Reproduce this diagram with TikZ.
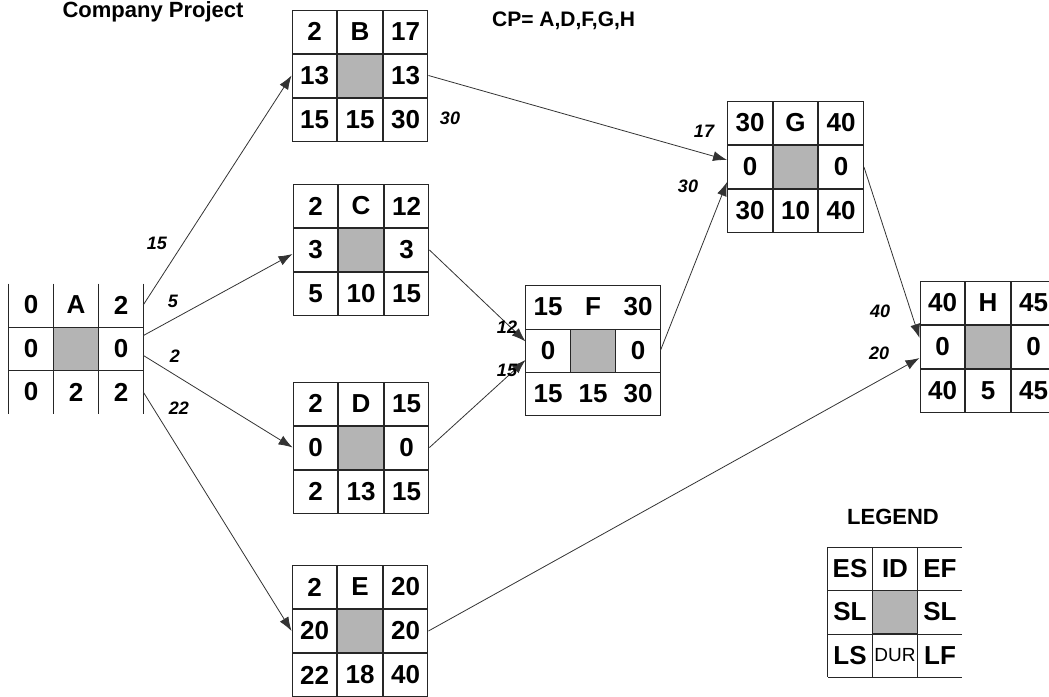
\documentclass[tikz,border=0pt]{standalone}
\usepackage{fontspec}
\setmainfont{Liberation Sans}
\usetikzlibrary{matrix,arrows.meta}

\definecolor{cellgray}{RGB}{180,180,180}
\newcommand{\cellfont}{\fontsize{26}{26}\selectfont\bfseries}
\newcommand{\durfont}{\fontsize{19}{19}\selectfont\mdseries}
\newcommand{\labfont}{\fontsize{18}{18}\selectfont\bfseries\itshape}

\tikzset{
  cell/.style={draw=black!85, line width=1pt, minimum width=44.5pt, minimum height=43pt,
    inner sep=0pt, outer sep=0pt, anchor=center, font=\cellfont},
  mid/.style={fill=cellgray, draw=black!85},
  pert/.style={matrix of nodes, nodes in empty cells, inner sep=0pt,
    column sep=0pt, row sep=0pt, nodes={cell}},
  openbox/.style={pert, nodes={cell, draw=none}},
  gridline/.style={line width=1pt, black!85},
  link/.style={-{Latex[length=14pt,width=10pt]}, line width=0.8pt, black!80},
  lbl/.style={font=\labfont, inner sep=0pt}
}

\begin{document}
\begin{tikzpicture}[x=1pt, y=-1pt]
  \useasboundingbox (0,0) rectangle (1049,696);

  % headings
  \node[font=\fontsize{22}{22}\selectfont\bfseries, anchor=base] (title) at (153,17) {Company Project};
  \node[font=\fontsize{21}{21}\selectfont\bfseries, anchor=base west, inner sep=0pt] (cp) at (492,26) {CP= A,D,F,G,H};

  % activities
  \matrix[openbox] (A) at (76,348.5) {0 & A & 2\\ 0 & |[mid]| & 0\\ 0 & 2 & 2\\};
  \foreach \c in {1,2,3}
    \draw[gridline] (A-1-\c.north west) -- (A-3-\c.south west);
  \draw[gridline] (A-1-3.north east) -- (A-3-3.south east);
  \foreach \r in {2,3}
    \draw[gridline] (A-\r-1.north west) -- (A-\r-3.north east);

  \matrix[pert] (B) at (360,75.5) {2 & B & 17\\ 13 & |[mid]| & 13\\ 15 & 15 & 30\\};
  \matrix[pert] (C) at (361,250) {2 & C & 12\\ 3 & |[mid]| & 3\\ 5 & 10 & 15\\};
  \matrix[pert] (D) at (361,447.5) {2 & D & 15\\ 0 & |[mid]| & 0\\ 2 & 13 & 15\\};
  \matrix[pert] (E) at (360,631) {2 & E & 20\\ 20 & |[mid]| & 20\\ 22 & 18 & 40\\};

  \matrix[openbox] (F) at (593,350.5) {15 & F & 30\\ 0 & |[mid]| & 0\\ 15 & 15 & 30\\};
  \draw[gridline] (F-1-1.north west) rectangle (F-3-3.south east);
  \foreach \r in {2,3}
    \draw[gridline] (F-\r-1.north west) -- (F-\r-3.north east);

  \matrix[pert] (G) at (795.5,167) {30 & G & 40\\ 0 & |[mid]| & 0\\ 30 & 10 & 40\\};
  \matrix[pert] (H) at (988,346.5) {40 & H & 45\\ 0 & |[mid]| & 0\\ 40 & 5 & 45\\};

  % legend
  \node[font=\fontsize{22}{22}\selectfont\bfseries] (legend title) at (893,517) {LEGEND};
  \matrix[openbox] (L) at (895,612) {ES & ID & EF\\ SL & |[mid]| & SL\\ LS & |[font=\durfont]| DUR & LF\\};
  \foreach \c in {1,2,3}
    \draw[gridline] (L-1-\c.north west) -- (L-3-\c.south west);
  \foreach \r in {1,2,3}
    \draw[gridline] (L-\r-1.north west) -- (L-\r-3.north east);
  \draw[gridline] (L-3-1.south west) -- (L-3-3.south east);

  % precedence links
  \draw[link] (A-1-3.east) -- (B.west);
  \draw[link] ([yshift=13pt]A.east) -- ([yshift=-4pt]C.west);
  \draw[link] ([yshift=-7pt]A.east) -- (D.west);
  \draw[link] (A-3-3.east) -- (E.west);
  \draw[link] (B.east) -- ([yshift=7pt]G.west);
  \draw[link] (C.east) -- ([yshift=9pt]F.west);
  \draw[link] (D.east) -- ([yshift=-9.5pt]F.west);
  \draw[link] (F.east) -- ([yshift=-15pt]G.west);
  \draw[link] (G.east) -- ([yshift=8.5pt]H.west);
  \draw[link] (E.east) -- ([yshift=-11.5pt]H.west);

  % link weights
  \node[lbl] (w-ab) at (157,243) {15};
  \node[lbl] (w-ac) at (173,301) {5};
  \node[lbl] (w-ad) at (175,356) {2};
  \node[lbl] (w-ae) at (179,408) {22};
  \node[lbl] (w-bg) at (450,118) {30};
  \node[lbl] (w-bg2) at (704,131) {17};
  \node[lbl] (w-fg) at (688,186) {30};
  \node[lbl] (w-cf) at (507,327) {12};
  \node[lbl] (w-df) at (507,370) {15};
  \node[lbl] (w-gh) at (880,311) {40};
  \node[lbl] (w-eh) at (879,353) {20};
\end{tikzpicture}
\end{document}
